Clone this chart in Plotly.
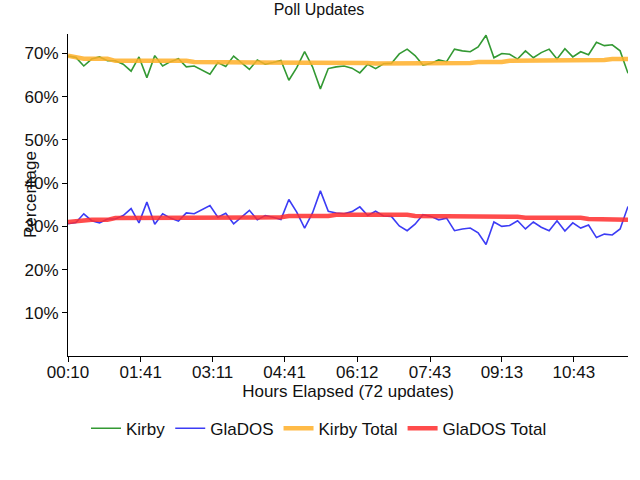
import plotly.graph_objects as go

# ---- data ----
tick_labels = ["00:10", "01:41", "03:11", "04:41", "06:12", "07:43", "09:13", "10:43"]
tick_minutes = [10, 101, 191, 281, 372, 463, 553, 643]
y_ticks = [10, 20, 30, 40, 50, 60, 70]

n_updates = 72
minutes = [10 + 9.87 * i for i in range(n_updates)]

kirby = [69.4, 69.1, 67.1, 68.7, 69.2, 68.3, 68.3, 67.5, 65.9, 69.2,
         64.4, 69.5, 67.1, 68.1, 68.8, 66.9, 67.1, 66.2, 65.2, 67.9,
         67.0, 69.4, 67.9, 66.3, 68.5, 67.5, 67.9, 68.4, 63.8, 66.7,
         70.4, 66.9, 61.8, 66.5, 66.9, 67.1, 66.6, 65.5, 67.5, 66.5,
         67.6, 67.7, 69.9, 71.0, 69.5, 67.3, 67.7, 68.5, 68.1, 71.0,
         70.6, 70.4, 71.5, 74.2, 69.0, 70.0, 69.8, 68.7, 70.6, 69.0,
         70.2, 71.0, 68.7, 71.1, 69.2, 70.4, 69.7, 72.6, 71.8, 72.0,
         70.6, 65.4]

glados = [30.6, 30.9, 32.9, 31.3, 30.8, 31.7, 31.7, 32.5, 34.1, 30.8,
          35.6, 30.5, 32.9, 31.9, 31.2, 33.1, 32.9, 33.8, 34.8, 32.1,
          33.0, 30.6, 32.1, 33.7, 31.5, 32.5, 32.1, 31.6, 36.2, 33.3,
          29.6, 33.1, 38.2, 33.5, 33.1, 32.9, 33.4, 34.5, 32.5, 33.5,
          32.4, 32.3, 30.1, 29.0, 30.5, 32.7, 32.3, 31.5, 31.9, 29.0,
          29.4, 29.6, 28.5, 25.8, 31.0, 30.0, 30.2, 31.3, 29.4, 31.0,
          29.8, 29.0, 31.3, 28.9, 30.8, 29.6, 30.3, 27.4, 28.2, 28.0,
          29.4, 34.6]

kirby_total = [69.5, 69.2, 68.8, 68.8, 68.8, 68.8, 68.3, 68.3, 68.3, 68.3,
               68.3, 68.3, 68.3, 68.3, 68.3, 68.3, 68.0, 68.0, 68.0, 68.0,
               68.0, 68.0, 68.0, 68.0, 68.0, 68.0, 68.0, 68.0, 67.8, 67.8,
               67.8, 67.8, 67.8, 67.8, 67.8, 67.8, 67.8, 67.8, 67.8, 67.7,
               67.7, 67.7, 67.8, 67.8, 67.8, 67.8, 67.8, 67.8, 67.8, 67.8,
               67.8, 67.8, 68.0, 68.0, 68.0, 68.0, 68.3, 68.3, 68.3, 68.3,
               68.3, 68.3, 68.3, 68.5, 68.5, 68.5, 68.5, 68.5, 68.5, 68.7,
               68.7, 68.7]

glados_total = [31.0, 31.2, 31.5, 31.5, 31.5, 31.5, 31.9, 31.9, 31.9, 31.9,
                31.9, 31.9, 31.9, 31.9, 31.9, 32.1, 32.1, 32.1, 32.1, 32.1,
                32.1, 32.1, 32.1, 32.1, 32.1, 32.1, 32.1, 32.1, 32.4, 32.4,
                32.4, 32.4, 32.4, 32.4, 32.7, 32.7, 32.7, 32.7, 32.7, 32.7,
                32.7, 32.7, 32.7, 32.7, 32.4, 32.4, 32.4, 32.4, 32.4, 32.4,
                32.4, 32.4, 32.4, 32.2, 32.2, 32.2, 32.2, 32.2, 32.0, 32.0,
                32.0, 32.0, 32.0, 32.0, 32.0, 32.0, 31.7, 31.7, 31.7, 31.7,
                31.5, 31.5]

FONT = "Liberation Sans, Arial, sans-serif"
TXT = "#111111"
FS = 17

fig = go.Figure()
fig.add_trace(go.Scatter(x=minutes, y=kirby, name="Kirby", mode="lines",
                         line=dict(color="#339933", width=1.6)))
fig.add_trace(go.Scatter(x=minutes, y=glados, name="GlaDOS", mode="lines",
                         line=dict(color="#3C3CF5", width=1.6)))
fig.add_trace(go.Scatter(x=minutes, y=kirby_total, name="Kirby Total", mode="lines",
                         line=dict(color="rgba(255,175,40,0.85)", width=4.5)))
fig.add_trace(go.Scatter(x=minutes, y=glados_total, name="GlaDOS Total", mode="lines",
                         line=dict(color="rgba(255,45,45,0.85)", width=4.5)))

fig.update_layout(
    width=640, height=480,
    paper_bgcolor="white", plot_bgcolor="white",
    margin=dict(l=68, r=12, t=34, b=124, autoexpand=False),
    font=dict(family=FONT, size=FS, color=TXT),
    title=dict(text="Poll Updates", xref="container", x=319 / 640, xanchor="center",
               yref="container", y=1 - 4 / 480, yanchor="top",
               pad=dict(t=0, b=0, l=0, r=0),
               font=dict(family=FONT, size=16, color=TXT)),
    showlegend=True,
    legend=dict(orientation="h", x=(319 - 68) / 560, xanchor="center",
                y=-0.17, yanchor="top",
                font=dict(family=FONT, size=FS, color=TXT),
                itemwidth=30, tracegroupgap=0),
)
fig.update_xaxes(
    range=[minutes[0], minutes[-1]],
    tickmode="array", tickvals=tick_minutes, ticktext=tick_labels,
    showgrid=False, zeroline=False,
    showline=True, linecolor="black", linewidth=1,
    ticks="outside", ticklen=5, tickcolor="black",
    ticklabelstandoff=-4,
    title=dict(text="Hours Elapsed (72 updates)", standoff=0,
               font=dict(family=FONT, size=FS, color=TXT)),
)
fig.update_yaxes(
    range=[0, 74.5],
    tickmode="array", tickvals=y_ticks, ticktext=[f"{v}%" for v in y_ticks],
    showgrid=False, zeroline=False,
    showline=True, linecolor="black", linewidth=1,
    ticks="outside", ticklen=5, tickcolor="black",
)
fig.add_annotation(text="Percentage", xref="paper", yref="paper",
                   x=-38 / 560, y=0.5, xanchor="center", yanchor="middle",
                   textangle=-90, showarrow=False,
                   font=dict(family=FONT, size=FS, color=TXT))

# remove the page's default 8px body margin so the figure fills the window exactly
fig.write_html("out.html", config={"displayModeBar": False},
               post_script="document.body.style.margin='0px';")
